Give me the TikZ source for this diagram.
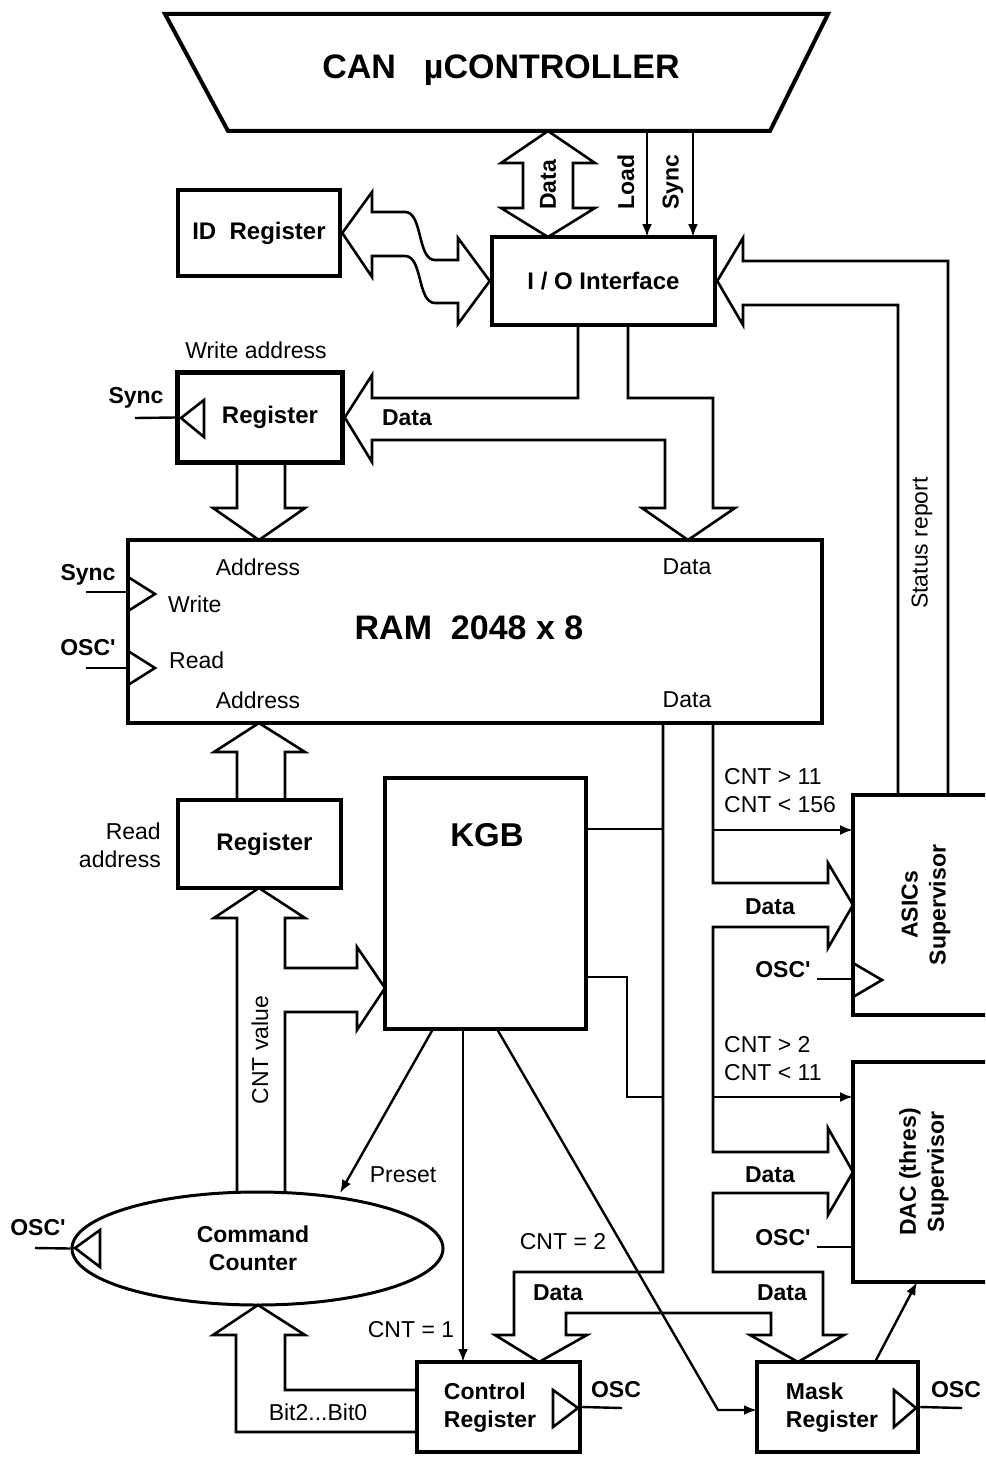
\documentclass[tikz,border=0pt]{standalone}
\usepackage{fontspec}
\setmainfont{Liberation Sans}
\usetikzlibrary{arrows.meta,shapes.geometric}
\newcommand{\sq}{\XeTeXglyph\XeTeXcharglyph"0027\relax}
\begin{document}
\begin{tikzpicture}[x=1pt,y=-1pt,
  box/.style={draw,line width=4.5pt,inner sep=0pt,font=\fontsize{24}{28}\selectfont\bfseries},
  bus/.style={draw,line width=2.6pt,line join=miter},
  wire/.style={draw,line width=2.4pt},
  arr/.style={wire,-{Latex[length=13pt,width=10pt]}},
  clk/.style={draw,line width=2.6pt,line join=miter},
  lbl/.style={inner sep=0pt,font=\fontsize{23}{28}\selectfont},
  blbl/.style={inner sep=0pt,font=\fontsize{23}{28}\selectfont\bfseries},
  big/.style={inner sep=0pt,font=\fontsize{33}{36}\selectfont\bfseries}]
\useasboundingbox (0,0) rectangle (985,1461);
\clip (0,0) rectangle (985,1461);

% CAN controller
\draw[line width=4pt,line join=miter] (165,14) -- (828,14) -- (770,131) -- (228,131) -- cycle;
\node[big,font=\fontsize{34}{36}\selectfont\bfseries] (can) at (501,70) {CAN\hspace{28pt}µCONTROLLER};

% boxes
\node[box,minimum width=162pt,minimum height=86pt] (idreg) at (259,233) {ID~~Register};
\node[box,minimum width=223pt,minimum height=88pt] (io) at (603.5,281) {I / O Interface};
\node[box,minimum width=165pt,minimum height=90pt] (wreg) at (260,417.5) {\hspace*{20pt}Register};
\node[box,minimum width=694pt,minimum height=183pt] (ram) at (475,631.5) {};
\node[big,font=\fontsize{34}{36}\selectfont\bfseries] (ramt) at (469,628) {RAM~~2048 x 8};
\node[box,minimum width=163pt,minimum height=88pt] (rreg) at (259.5,844) {\hspace*{10pt}Register};
\node[box,minimum width=201pt,minimum height=251pt] (kgb) at (485.5,903.5) {};
\node[big] (kgbt) at (487,835) {KGB};
\node[box,minimum width=142pt,minimum height=220pt] (asics) at (924,905) {};
\node[blbl,rotate=90,align=center] (asicst) at (926,905) {ASICs\\Supervisor};
\node[box,minimum width=142pt,minimum height=220pt] (dac) at (924,1172) {};
\node[blbl,rotate=90,align=center] (dact) at (924,1172) {DAC (thres)\\Supervisor};
\node[draw,ellipse,line width=3pt,minimum width=371pt,minimum height=113pt,inner sep=0pt] (cc) at (257.5,1248.5) {};
\node[blbl,align=center] (cct) at (253,1248) {Command\\Counter};
\node[box,minimum width=163pt,minimum height=90pt] (creg) at (498.5,1407) {};
\node[blbl,align=left] (cregt) at (490,1408) {Control\\Register};
\node[box,minimum width=161pt,minimum height=90pt] (mreg) at (837.5,1407) {};
\node[blbl,align=left] (mregt) at (832,1408) {Mask\\Register};

% named connector ends
\coordinate (ldA) at (647,131);  \coordinate (ldB) at (647,237);
\coordinate (syA) at (693,131);  \coordinate (syB) at (693,237);
\coordinate (a11) at (713,830);  \coordinate (a11e) at (853,830);
\coordinate (a2) at (713,1097);  \coordinate (a2e) at (853,1097);
\coordinate (aoscA) at (817,979); \coordinate (aoscB) at (853,979);
\coordinate (doscA) at (817,1247); \coordinate (doscB) at (853,1247);
\coordinate (kA) at (586,829); \coordinate (kAe) at (663,829);
\coordinate (kB) at (586,977); \coordinate (kBe) at (663,1097);
\coordinate (pre) at (433,1029); \coordinate (preE) at (340,1193);
\coordinate (c1) at (463,1029); \coordinate (c1e) at (463,1362);
\coordinate (c2s) at (497,1029); \coordinate (c2m) at (718,1410); \coordinate (c2e) at (757,1410);
\coordinate (mk) at (875,1362); \coordinate (mke) at (917,1282);

% RAM inner labels
\node[lbl] (ra1) at (258,567) {Address};
\node[lbl] (rd1) at (687,567) {Data};
\node[lbl,anchor=west] (rw) at (168,604) {Write};
\node[lbl,anchor=west] (rr) at (169,660) {Read};
\node[lbl] (ra2) at (258,700) {Address};
\node[lbl] (rd2) at (687,700) {Data};

% CAN <-> IO data bus
\draw[bus] (548,131) -- (595,163) -- (573,163) -- (573,208) -- (595,208) -- (548,237)
  -- (501,208) -- (523,208) -- (523,163) -- (501,163) -- cycle;
\node[blbl,rotate=90] (cdata) at (548,185) {Data};
\draw[arr] (ldA) -- (ldB);
\draw[arr] (syA) -- (syB);
\node[blbl,rotate=90] (lload) at (626,182) {Load};
\node[blbl,rotate=90] (lsync) at (673,182) {Sync};

% ID register <-> IO wavy bus
\draw[bus] (idreg.east) -- (372,192) -- (372,212) -- (405,212) .. controls (423,212) and (417,260) .. (435,260)
  -- (458,260) -- (458,238) -- (io.west) -- (458,324) -- (458,303) -- (435,303)
  .. controls (417,303) and (423,256) .. (405,256) -- (372,256) -- (372,277) -- cycle;

% IO -> write register / RAM data
\draw[bus] (578,325) -- (578,398) -- (372,398) -- (372,375) -- (wreg.east) -- (372,462) -- (372,440)
  -- (665,440) -- (665,508) -- (642,508) -- (688,540) -- (735,508) -- (713,508) -- (713,398)
  -- (628,398) -- (628,325);
\node[blbl] (wdata) at (407,418) {Data};
\node[lbl] (waddr) at (256,350) {Write address};

% write register clock
\draw[wire] (135,418) -- (wreg.west);
\node[blbl] (wsync) at (136,398) {Sync};
\draw[clk] (204,400) -- (181,418) -- (204,437) -- cycle;

% write register -> RAM address
\draw[bus] (237,463) -- (237,508) -- (213,508) -- (259,540) -- (305,508) -- (285,508) -- (285,463);

% RAM clocks
\draw[wire] (86,592) -- (128,592);
\draw[wire] (86,668) -- (128,668);
\draw[clk] (128,577) -- (155,594) -- (128,611);
\draw[clk] (128,651) -- (155,668) -- (128,685);
\node[blbl] (rsync) at (88,575) {Sync};
\node[blbl] (rosc) at (88,648) {OSC\sq};

% status report
\draw[bus] (898,795) -- (898,305) -- (743,305) -- (743,325) -- (io.east) -- (743,238) -- (743,261)
  -- (948,261) -- (948,795);
\node[lbl,rotate=90] (status) at (922,543) {Status report};

% read register -> RAM
\draw[bus] (237,800) -- (237,752) -- (214,752) -- (259,723) -- (305,752) -- (285,752) -- (285,800);
\node[lbl,align=right,anchor=east] (raddr) at (161,845) {Read\\address};

% counter -> read register & KGB
\draw[bus] (237,1192) -- (237,918) -- (214,918) -- (259,888) -- (305,918) -- (285,918) -- (285,968)
  -- (357,968) -- (357,947) -- (385,988) -- (357,1030) -- (357,1012) -- (285,1012) -- (285,1192);
\node[lbl,rotate=90] (cntv) at (260,1050) {CNT value};

% command counter clock
\draw[wire] (35,1248) -- (cc.west);
\draw[clk] (100,1230) -- (75,1248) -- (100,1267) -- cycle;
\node[blbl] (ccosc) at (38,1228) {OSC\sq};

% control register -> counter
\draw[bus] (417,1432) -- (236,1432) -- (236,1335) -- (213,1335) -- (258,1305) -- (305,1335) -- (285,1335)
  -- (285,1390) -- (417,1390);
\node[lbl] (bits) at (318,1412) {Bit2...Bit0};

% RAM data bus (right side)
\draw[bus] (663,723) -- (663,1272) -- (514,1272) -- (514,1335) -- (495,1335) -- (539,1362) -- (587,1335)
  -- (566,1335) -- (566,1313) -- (771,1313) -- (771,1335) -- (750,1335) -- (798,1362) -- (844,1335)
  -- (823,1335) -- (823,1272) -- (713,1272) -- (713,1193) -- (828,1193) -- (828,1215) -- (853,1172)
  -- (828,1128) -- (828,1152) -- (713,1152) -- (713,927) -- (828,927) -- (828,948) -- (853,905)
  -- (828,863) -- (828,883) -- (713,883) -- (713,723);
\node[blbl] (adata) at (770,907) {Data};
\node[blbl] (ddata) at (770,1175) {Data};
\node[blbl] (cdata2) at (558,1293) {Data};
\node[blbl] (mdata) at (782,1293) {Data};

% control arrows to supervisors
\draw[arr] (a11) -- (a11e);
\node[lbl,anchor=west] (c11) at (724,777) {CNT > 11};
\node[lbl,anchor=west] (c156) at (724,805) {CNT < 156};
\draw[arr] (a2) -- (a2e);
\node[lbl,anchor=west] (c2) at (724,1045) {CNT > 2};
\node[lbl,anchor=west] (c11b) at (724,1073) {CNT < 11};

% supervisor clocks
\draw[wire] (aoscA) -- (aoscB);
\draw[clk] (853,963) -- (882,980) -- (853,997);
\node[blbl] (aosc) at (783,970) {OSC\sq};
\draw[wire] (doscA) -- (doscB);
\node[blbl] (dosc) at (783,1238) {OSC\sq};

% KGB connections
\draw[wire] (kA) -- (kAe);
\draw[wire] (kB) -- (627,977) -- (627,1097) -- (kBe);
\draw[arr] (pre) -- (preE);
\node[lbl] (preset) at (403,1175) {Preset};
\draw[arr] (c1) -- (c1e);
\node[lbl] (cnt1) at (411,1330) {CNT = 1};
\draw[arr] (c2s) -- (c2m) -- (c2e);
\node[lbl] (cnt2) at (563,1242) {CNT = 2};

% mask -> DAC
\draw[arr] (mk) -- (mke);

% register clocks
\draw[clk] (553,1390) -- (578,1408) -- (553,1427) -- cycle;
\draw[wire] (creg.east) -- (622,1408);
\node[blbl] (cosc) at (616,1390) {OSC};
\draw[clk] (894,1390) -- (916,1408) -- (894,1427) -- cycle;
\draw[wire] (mreg.east) -- (962,1408);
\node[blbl] (mosc) at (956,1390) {OSC};
\end{tikzpicture}
\end{document}
